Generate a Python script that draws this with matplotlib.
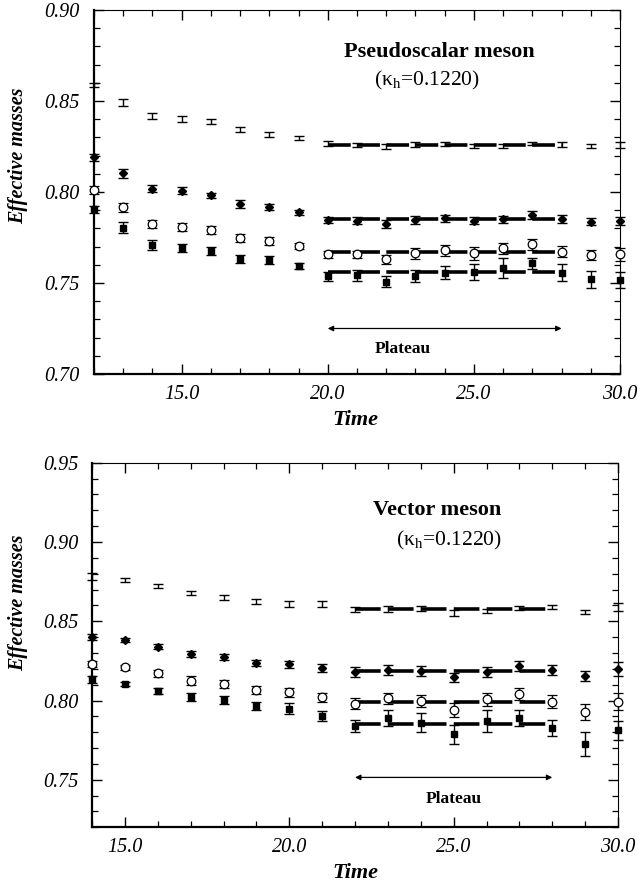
import matplotlib.pyplot as plt
from matplotlib.ticker import MultipleLocator, FormatStrFormatter

plt.rcParams['font.family'] = ['Liberation Serif', 'DejaVu Serif']
# italic by default (tick labels); upright texts ask for style='normal'
plt.rcParams['font.style'] = 'italic'
plt.rcParams['mathtext.fontset'] = 'custom'
plt.rcParams['mathtext.rm'] = 'Liberation Serif:style=normal'
plt.rcParams['lines.scale_dashes'] = False

# ---- pseudoscalar channel, t = 12..30 ----
ps_t = list(range(12, 31))
ps_a = [0.8588, 0.8493, 0.8418, 0.8401, 0.8386, 0.8344, 0.8317, 0.8299, 0.8267, 0.8258,
        0.8249, 0.8262, 0.8264, 0.8253, 0.8254, 0.8267, 0.8262, 0.8253, 0.8258]
ps_a_err = [0.0013, 0.0020, 0.0015, 0.0016, 0.0013, 0.0015, 0.0013, 0.0011, 0.0013, 0.0013,
            0.0015, 0.0014, 0.0012, 0.0010, 0.0010, 0.0010, 0.0012, 0.0013, 0.0018]
ps_b = [0.8191, 0.8103, 0.8018, 0.8007, 0.7982, 0.7936, 0.7916, 0.7888, 0.7846, 0.7842,
        0.7824, 0.7846, 0.7855, 0.7842, 0.7850, 0.7874, 0.7852, 0.7837, 0.7842]
ps_b_err = [0.0020, 0.0025, 0.0020, 0.0020, 0.0015, 0.0022, 0.0017, 0.0015, 0.0018, 0.0018,
            0.0020, 0.0020, 0.0020, 0.0020, 0.0020, 0.0020, 0.0020, 0.0018, 0.0022]
ps_c = [0.8011, 0.7916, 0.7824, 0.7809, 0.7791, 0.7745, 0.7731, 0.7703, 0.7658, 0.7658,
        0.7630, 0.7663, 0.7681, 0.7663, 0.7691, 0.7713, 0.7672, 0.7654, 0.7658]
ps_c_err = [0.0020, 0.0025, 0.0022, 0.0022, 0.0020, 0.0022, 0.0020, 0.0018, 0.0020, 0.0020,
            0.0025, 0.0030, 0.0030, 0.0035, 0.0030, 0.0030, 0.0030, 0.0030, 0.0035]
ps_d = [0.7905, 0.7804, 0.7709, 0.7694, 0.7677, 0.7632, 0.7626, 0.7593, 0.7538, 0.7542,
        0.7507, 0.7538, 0.7557, 0.7562, 0.7581, 0.7608, 0.7557, 0.7520, 0.7516]
ps_d_err = [0.0020, 0.0030, 0.0025, 0.0022, 0.0022, 0.0022, 0.0022, 0.0018, 0.0025, 0.0030,
            0.0030, 0.0035, 0.0035, 0.0045, 0.0055, 0.0030, 0.0045, 0.0045, 0.0045]
ps_fit = [0.8260, 0.7849, 0.7672, 0.7560]
ps_window = [20, 28]

# ---- vector channel, t = 14..30 ----
v_t = list(range(14, 31))
v_a = [0.8783, 0.8758, 0.8722, 0.8678, 0.8649, 0.8624, 0.8611, 0.8607, 0.8573, 0.8579,
       0.8579, 0.8554, 0.8565, 0.8586, 0.8590, 0.8558, 0.8590]
v_a_err = [0.0020, 0.0012, 0.0015, 0.0015, 0.0015, 0.0015, 0.0018, 0.0018, 0.0015, 0.0018,
           0.0015, 0.0018, 0.0012, 0.0012, 0.0015, 0.0015, 0.0025]
v_b = [0.8401, 0.8384, 0.8340, 0.8295, 0.8274, 0.8238, 0.8228, 0.8207, 0.8181, 0.8192,
       0.8186, 0.8146, 0.8181, 0.8217, 0.8192, 0.8155, 0.8201]
v_b_err = [0.0018, 0.0012, 0.0018, 0.0020, 0.0020, 0.0020, 0.0022, 0.0025, 0.0030, 0.0030,
           0.0030, 0.0030, 0.0030, 0.0030, 0.0030, 0.0030, 0.0045]
v_c = [0.8230, 0.8209, 0.8171, 0.8125, 0.8104, 0.8066, 0.8052, 0.8020, 0.7980, 0.8014,
       0.7997, 0.7940, 0.8008, 0.8041, 0.7993, 0.7930, 0.7993]
v_c_err = [0.0020, 0.0015, 0.0020, 0.0030, 0.0025, 0.0025, 0.0030, 0.0030, 0.0035, 0.0035,
           0.0040, 0.0045, 0.0040, 0.0040, 0.0040, 0.0050, 0.0055]
v_d = [0.8133, 0.8104, 0.8060, 0.8024, 0.8003, 0.7965, 0.7947, 0.7904, 0.7840, 0.7892,
       0.7860, 0.7787, 0.7871, 0.7888, 0.7825, 0.7726, 0.7814]
v_d_err = [0.0020, 0.0015, 0.0020, 0.0025, 0.0025, 0.0025, 0.0035, 0.0030, 0.0040, 0.0050,
           0.0060, 0.0060, 0.0070, 0.0050, 0.0050, 0.0075, 0.0060]
v_fit = [0.8577, 0.8185, 0.7989, 0.7852]
v_window = [22, 28]

kappa = '(κ$_{\\rm h}$=0.1220)'

fig = plt.figure(figsize=(6.38, 8.86), dpi=100)
ax1 = fig.add_axes([0.1473, 0.5779, 0.8245, 0.4108])
ax2 = fig.add_axes([0.1442, 0.0662, 0.8245, 0.4115])


def draw_panel(ax, t, sets, fit, window, period):
    styles = [dict(fmt='none'),
              dict(fmt='D', ms=4.0, mfc='black'),
              dict(fmt='o', ms=6.2, mfc='white', mew=0.9),
              dict(fmt='s', ms=5.0, mfc='black')]
    for (vals, errs), st in zip(sets, styles):
        ax.errorbar(t, vals, yerr=errs, color='black', ecolor='black', elinewidth=1.0,
                    capsize=3.4, capthick=1.0, mec='black', zorder=3, clip_on=False, **st)
    # plateau fits, one dash per time slice
    for f in fit:
        ln, = ax.plot(window, [f, f], color='black', lw=2.6, zorder=2)
        ln.set_dashes([period * 0.78, period * 0.22])


def style_axes(ax, xlim, ylim):
    ax.set_xlim(*xlim)
    ax.set_ylim(*ylim)
    ax.xaxis.set_major_locator(MultipleLocator(5))
    ax.xaxis.set_minor_locator(MultipleLocator(1))
    ax.yaxis.set_major_locator(MultipleLocator(0.05))
    ax.yaxis.set_minor_locator(MultipleLocator(0.01))
    ax.xaxis.set_major_formatter(FormatStrFormatter('%.1f'))
    ax.yaxis.set_major_formatter(FormatStrFormatter('%.2f'))
    ax.tick_params(which='both', direction='in', top=True, right=True, labelsize=14.5)
    ax.tick_params(which='major', length=7, width=1.0)
    ax.tick_params(which='minor', length=4, width=0.9)
    ax.tick_params(axis='x', pad=8)
    ax.tick_params(axis='y', pad=10)
    for s in ['left', 'bottom']:
        ax.spines[s].set_linewidth(1.6)
    for s in ['top', 'right']:
        ax.spines[s].set_linewidth(0.8)
    ax.set_ylabel('Effective masses', fontsize=14.5, fontweight='bold', style='italic')
    ax.set_xlabel('Time', fontsize=16, fontweight='bold', style='italic')


def plateau(ax, window, y, label_x, label_y):
    ax.annotate('', xy=(window[0], y), xytext=(window[1], y),
                arrowprops=dict(arrowstyle='<|-|>', color='black', lw=0.9, mutation_scale=8,
                                shrinkA=0, shrinkB=0))
    ax.text(label_x, label_y, 'Plateau', ha='center', va='center', fontsize=12.5,
            fontweight='bold', style='normal')


# pseudoscalar
draw_panel(ax1, ps_t, [(ps_a, ps_a_err), (ps_b, ps_b_err), (ps_c, ps_c_err), (ps_d, ps_d_err)],
           ps_fit, ps_window, 21.0)
style_axes(ax1, (12, 30), (0.70, 0.90))
ax1.yaxis.set_label_coords(-0.125, 0.60)
ax1.xaxis.set_label_coords(0.497, -0.100)
ax1.text(23.8, 0.8769, 'Pseudoscalar meson', ha='center', va='center', fontsize=16,
         fontweight='bold', style='normal')
ax1.text(23.4, 0.8612, kappa, ha='center', va='center', fontsize=15.5, style='normal')
plateau(ax1, ps_window, 0.725, 22.55, 0.7137)

# vector
draw_panel(ax2, v_t, [(v_a, v_a_err), (v_b, v_b_err), (v_c, v_c_err), (v_d, v_d_err)],
           v_fit, v_window, 23.7)
style_axes(ax2, (14, 30), (0.72, 0.95))
ax2.yaxis.set_label_coords(-0.122, 0.616)
ax2.xaxis.set_label_coords(0.50, -0.097)
ax2.text(24.5, 0.9204, 'Vector meson', ha='center', va='center', fontsize=16,
         fontweight='bold', style='normal')
ax2.text(24.85, 0.9012, kappa, ha='center', va='center', fontsize=15.5, style='normal')
plateau(ax2, v_window, 0.7515, 25.0, 0.7379)

fig.savefig('out.png', dpi=100)
